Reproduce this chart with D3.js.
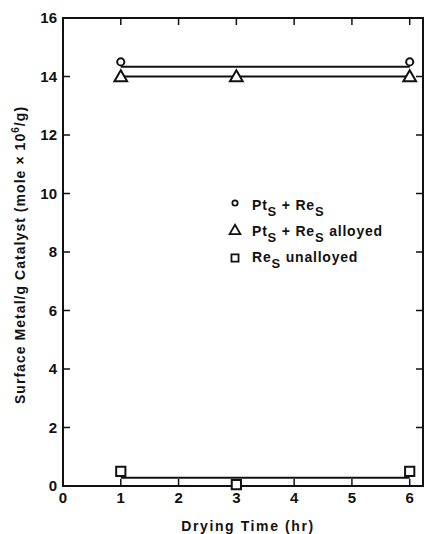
<!DOCTYPE html>
<html>
<head>
<meta charset="utf-8">
<script src="https://cdn.jsdelivr.net/npm/d3@7"></script>
<style>
  body { margin: 0; background: #fff; }
  text { font-family: "Liberation Sans", Arial, sans-serif; fill: #111; }
</style>
</head>
<body>
<svg id="chart" width="427" height="534"></svg>
<script>
const hours = [1, 3, 6]
const ptRe = [14.5, null, 14.5]
const ptReAlloyed = [14.0, 14.0, 14.0]
const reUnalloyed = [0.5, 0.05, 0.5]
const ptReMean = 14.33
const ptReAlloyedMean = 14.0
const reUnalloyedMean = 0.28
const xTicks = [0, 1, 2, 3, 4, 5, 6]
const yTicks = [0, 2, 4, 6, 8, 10, 12, 14, 16]

const svg = d3.select("#chart")
const margin = {left: 63, right: 4, top: 18, bottom: 48}
const width = 427, height = 534

const x = d3.scaleLinear().domain([0, 6.23]).range([margin.left, width - margin.right])
const y = d3.scaleLinear().domain([0, 16]).range([height - margin.bottom, margin.top])

const g = svg.append("g")

// frame
g.append("rect")
  .attr("x", x(0)).attr("y", y(16))
  .attr("width", x(6.23) - x(0)).attr("height", y(0) - y(16))
  .attr("fill", "none").attr("stroke", "#111").attr("stroke-width", 2)

// y ticks, inward on both sides
g.selectAll(".ytl").data(yTicks.slice(1, -1)).enter().append("line")
  .attr("x1", x(0)).attr("x2", x(0) + 7).attr("y1", d => y(d)).attr("y2", d => y(d))
  .attr("stroke", "#111").attr("stroke-width", 1.5)
g.selectAll(".ytr").data(yTicks.slice(1, -1)).enter().append("line")
  .attr("x1", x(6.23)).attr("x2", x(6.23) - 7).attr("y1", d => y(d)).attr("y2", d => y(d))
  .attr("stroke", "#111").attr("stroke-width", 1.5)
// x ticks, inward top and bottom
g.selectAll(".xtb").data(xTicks.slice(1)).enter().append("line")
  .attr("x1", d => x(d)).attr("x2", d => x(d)).attr("y1", y(0)).attr("y2", y(0) - 7)
  .attr("stroke", "#111").attr("stroke-width", 1.5)
g.selectAll(".xtt").data(xTicks.slice(1)).enter().append("line")
  .attr("x1", d => x(d)).attr("x2", d => x(d)).attr("y1", y(16)).attr("y2", y(16) + 7)
  .attr("stroke", "#111").attr("stroke-width", 1.5)

// tick labels
g.selectAll(".ylab").data(yTicks).enter().append("text")
  .attr("x", x(0) - 6).attr("y", d => y(d)).attr("dy", "0.36em")
  .attr("text-anchor", "end").attr("font-size", 15).attr("font-weight", "bold")
  .text(d => d)
g.selectAll(".xlab").data(xTicks).enter().append("text")
  .attr("x", d => x(d)).attr("y", y(0) + 17)
  .attr("text-anchor", "middle").attr("font-size", 15).attr("font-weight", "bold")
  .text(d => d)

// axis titles
g.append("text")
  .attr("x", 248).attr("y", 531)
  .attr("text-anchor", "middle").attr("font-size", 14).attr("font-weight", "bold")
  .attr("letter-spacing", 1.6)
  .text("Drying Time (hr)")
const yt = g.append("text")
  .attr("transform", `translate(25,255) rotate(-90)`)
  .attr("text-anchor", "middle").attr("font-size", 14).attr("font-weight", "bold")
  .attr("letter-spacing", 1.05)
yt.append("tspan").text("Surface Metal/g Catalyst (mole × 10")
yt.append("tspan").attr("dy", -6).attr("font-size", 10).text("6")
yt.append("tspan").attr("dy", 6).text("/g)")

// mean lines
const lines = [ptReMean, ptReAlloyedMean, reUnalloyedMean]
g.selectAll(".mean").data(lines).enter().append("line")
  .attr("x1", x(1)).attr("x2", x(6)).attr("y1", d => y(d)).attr("y2", d => y(d))
  .attr("stroke", "#111").attr("stroke-width", 2)

// markers
const circ = d3.symbol().type(d3.symbolCircle).size(40)
const tri = d3.symbol().type(d3.symbolTriangle).size(70)
const sq = d3.symbol().type(d3.symbolSquare).size(85)

function drawSeries(vals, sym, dy) {
  g.selectAll(null).data(hours.map((h, i) => [h, vals[i]]).filter(d => d[1] != null))
    .enter().append("path")
    .attr("d", sym)
    .attr("transform", d => `translate(${x(d[0])},${y(d[1]) + dy})`)
    .attr("fill", "#fff").attr("stroke", "#111").attr("stroke-width", 2)
}
drawSeries(reUnalloyed, sq, 0)
drawSeries(ptReAlloyed, tri, 1)
drawSeries(ptRe, circ, 0)

// legend
const legend = g.append("g").attr("transform", "translate(235,0)")
const items = [
  {sym: d3.symbol().type(d3.symbolCircle).size(22), y: 210, my: 7, parts: [["Pt", 0], ["S", 1], [" + Re", 0], ["S", 1]]},
  {sym: d3.symbol().type(d3.symbolTriangle).size(50), y: 236, my: 5, parts: [["Pt", 0], ["S", 1], [" + Re", 0], ["S", 1], [" alloyed", 0]]},
  {sym: d3.symbol().type(d3.symbolSquare).size(50), y: 262, my: 4, parts: [["Re", 0], ["S", 1], [" unalloyed", 0]]}
]
items.forEach(it => {
  legend.append("path").attr("d", it.sym).attr("transform", `translate(0,${it.y - it.my})`)
    .attr("fill", "#fff").attr("stroke", "#111").attr("stroke-width", 1.8)
  const t = legend.append("text").attr("x", 17).attr("y", it.y)
    .attr("font-size", 14).attr("font-weight", "bold").attr("letter-spacing", 0.8)
  let sub = 0
  it.parts.forEach(p => {
    const shift = (p[1] - sub) * 6
    t.append("tspan").attr("dy", shift).attr("font-size", p[1] ? 13 : 14).text(p[0])
    sub = p[1]
  })
})
</script>
</body>
</html>
